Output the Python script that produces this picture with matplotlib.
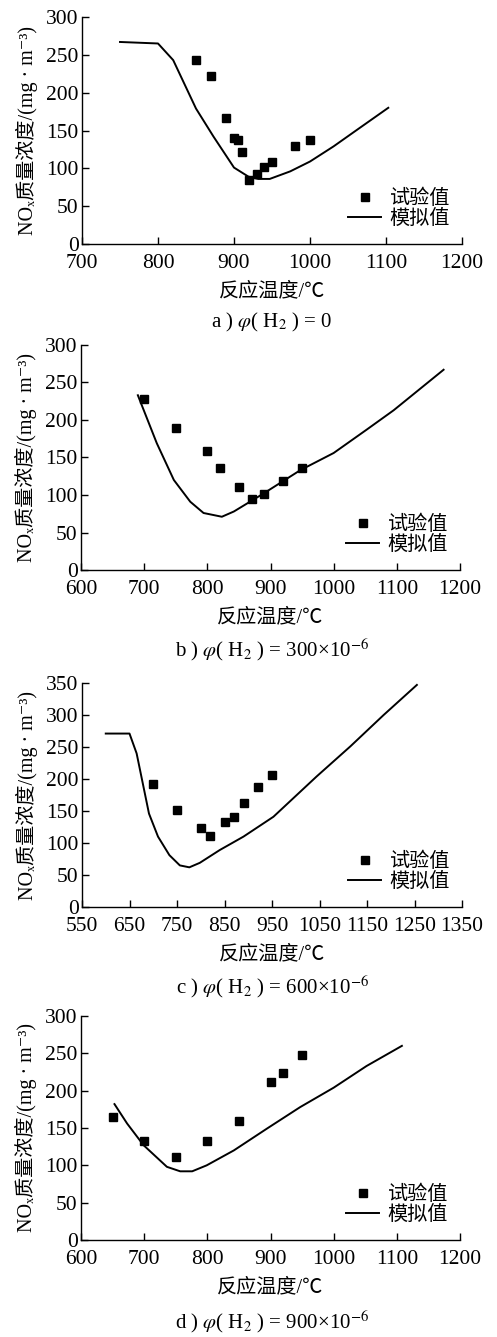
import matplotlib
matplotlib.use('Agg')
import matplotlib.pyplot as plt

plt.rcParams['font.family'] = ['Liberation Serif', 'Noto Sans CJK SC', 'DejaVu Sans']
plt.rcParams['mathtext.fontset'] = 'stix'
plt.rcParams['font.size'] = 14.5

# a) phi(H2) = 0
a_exp_t = [850, 870, 890, 900, 905, 910, 920, 930, 940, 950, 980, 1000]
a_exp_no = [243, 222, 167, 140, 137, 121, 85, 93, 102, 108, 130, 137]
a_sim_t = [750, 800, 820, 850, 873, 900, 919, 932, 947, 974, 1000, 1031, 1062, 1103]
a_sim_no = [267, 265, 243, 179, 142, 101, 89, 86, 86, 96, 109, 129, 151, 180]

# b) phi(H2) = 300e-6
b_exp_t = [700, 750, 800, 820, 850, 870, 890, 920, 950]
b_exp_no = [228, 189, 159, 136, 110, 95, 101, 119, 136]
b_sim_t = [690, 720, 747, 773, 794, 823, 842, 889, 947, 1000, 1052, 1095, 1174]
b_sim_no = [233, 169, 120, 91, 76, 71, 78, 102, 133, 156, 187, 213, 267]

# c) phi(H2) = 600e-6
c_exp_t = [700, 750, 800, 820, 850, 870, 890, 920, 950]
c_exp_no = [192, 151, 124, 111, 133, 140, 162, 187, 207]
c_sim_t = [600, 650, 665, 691, 710, 734, 756, 776, 798, 840, 890, 953, 1044, 1115, 1185, 1255]
c_sim_no = [271, 271, 240, 146, 110, 81, 65, 62, 69, 89, 110, 141, 204, 251, 300, 347]

# d) phi(H2) = 900e-6
d_exp_t = [650, 700, 750, 800, 850, 900, 920, 950]
d_exp_no = [165, 132, 111, 132, 159, 211, 224, 248]
d_sim_t = [653, 673, 699, 736, 757, 776, 799, 842, 894, 947, 1000, 1052, 1108]
d_sim_no = [182, 156, 127, 98, 92, 92, 100, 120, 149, 178, 204, 233, 260]

panels = [
    (a_exp_t, a_exp_no, a_sim_t, a_sim_no, (700, 1200), 100, (0, 300),
     r'a ) $\varphi$( H$_2$ ) = 0', (82, 462, 17, 244), 322),
    (b_exp_t, b_exp_no, b_sim_t, b_sim_no, (600, 1200), 100, (0, 300),
     r'b ) $\varphi$( H$_2$ ) = 300×10$^{-6}$', (81, 460, 345, 570), 650),
    (c_exp_t, c_exp_no, c_sim_t, c_sim_no, (550, 1350), 100, (0, 350),
     r'c ) $\varphi$( H$_2$ ) = 600×10$^{-6}$', (82, 462, 683, 907), 987),
    (d_exp_t, d_exp_no, d_sim_t, d_sim_no, (600, 1200), 100, (0, 300),
     r'd ) $\varphi$( H$_2$ ) = 900×10$^{-6}$', (81, 460, 1016, 1240), 1322),
]

W, H = 497, 1337
fig = plt.figure(figsize=(W / 100, H / 100), dpi=100)

for ex_t, ex_no, sm_t, sm_no, xlim, xstep, ylim, caption, box, cap_y in panels:
    l, r, t, b = box
    ax = fig.add_axes([l / W, 1 - b / H, (r - l) / W, (b - t) / H])
    ax.plot(ex_t, ex_no, 's', color='black', markersize=5.5, label='试验值')
    ax.plot(sm_t, sm_no, '-', color='black', linewidth=1.4, label='模拟值')
    ax.set_xlim(*xlim)
    ax.set_ylim(*ylim)
    ax.set_xticks(range(xlim[0], xlim[1] + 1, xstep))
    ax.set_yticks(range(ylim[0], ylim[1] + 1, 50))
    for s in ['top', 'right']:
        ax.spines[s].set_visible(False)
    for s in ['left', 'bottom']:
        ax.spines[s].set_linewidth(1.0)
    ax.tick_params(direction='in', length=5, width=1.0, labelsize=15.5)
    ax.tick_params(axis='x', pad=7.5)
    ax.tick_params(axis='y', pad=2.5)
    ax.set_xlabel('反应温度/℃', fontsize=14.5)
    ax.set_ylabel('NOₓ质量浓度/(mg · m⁻³)', fontsize=14.5)
    ax.xaxis.set_label_coords(0.5, -0.17)
    ax.yaxis.set_label_coords(-0.115, 0.5)
    ax.legend(loc='lower right', bbox_to_anchor=(0.99, 0.03), frameon=False,
              numpoints=1, handlelength=1.6, handletextpad=0.45,
              labelspacing=0.05, borderaxespad=0, fontsize=14.5)
    fig.text(272 / W, 1 - cap_y / H, caption, ha='center', va='center', fontsize=15)

fig.savefig('out.png', dpi=100)
